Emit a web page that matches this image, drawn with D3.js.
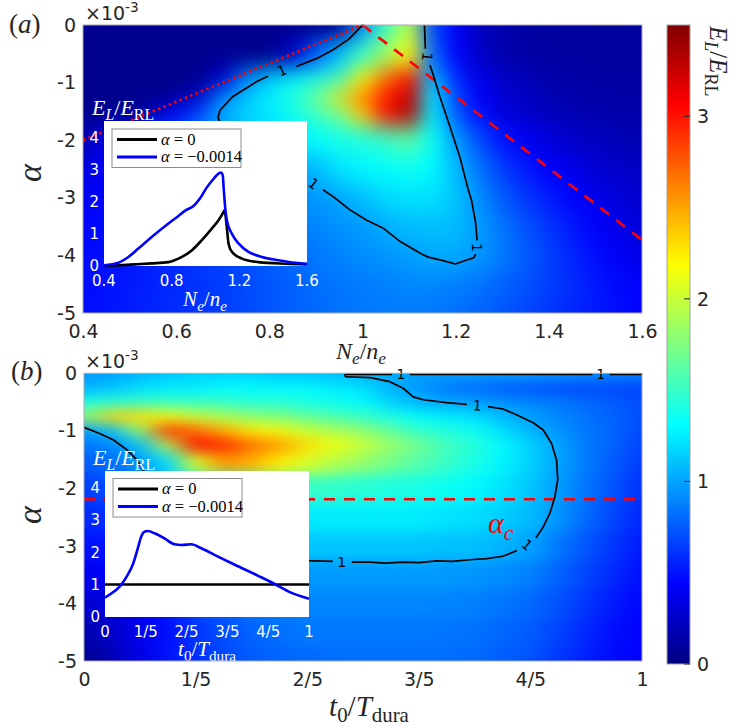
<!DOCTYPE html>
<html>
<head>
<meta charset="utf-8">
<script src="https://cdn.jsdelivr.net/npm/d3@7"></script>
<style>
  body { margin: 0; background: #fff; }
  svg { display: block; }
</style>
</head>
<body>
<svg id="fig" width="747" height="728"></svg>
<script>
// ---- panel (a): E_L/E_RL over N_e/n_e and alpha (x1e-3) ----
var neA = [0.4, 0.45, 0.5, 0.55, 0.6, 0.65, 0.7, 0.75, 0.8, 0.85, 0.9, 0.95, 1.0,
           1.05, 1.1, 1.15, 1.2, 1.25, 1.3, 1.35, 1.4, 1.45, 1.5, 1.55, 1.6];
var alphaA = [0, -0.5, -1, -1.25, -1.5, -2, -2.5, -3, -3.5, -4, -4.5, -5];
var fieldA = [
  [0.05,0.05,0.05,0.05,0.05,0.05,0.05,0.05,0.05,0.05,0.05,0.08,0.9,1.5,1.95,0.7,0.4,0.22,0.15,0.12,0.1,0.1,0.1,0.1,0.1],
  [0.05,0.05,0.05,0.05,0.05,0.05,0.05,0.05,0.05,0.25,0.75,1.1,1.5,1.85,2.2,0.8,0.45,0.25,0.16,0.13,0.12,0.11,0.1,0.1,0.1],
  [0.05,0.05,0.05,0.05,0.05,0.05,0.3,0.9,1.15,1.3,1.4,1.55,2.2,2.7,3.05,1.1,0.6,0.38,0.26,0.2,0.16,0.14,0.13,0.12,0.12],
  [0.05,0.05,0.05,0.05,0.05,0.3,0.95,1.15,1.25,1.45,1.75,2.3,2.7,3.0,3.3,1.25,0.7,0.42,0.3,0.23,0.18,0.15,0.14,0.13,0.13],
  [0.05,0.05,0.05,0.2,0.45,0.7,1.0,1.15,1.25,1.35,1.5,1.7,2.35,3.0,3.3,1.25,0.75,0.48,0.32,0.26,0.21,0.18,0.16,0.15,0.15],
  [0.15,0.35,0.5,0.65,0.8,0.92,1.02,1.1,1.18,1.25,1.32,1.38,1.42,1.5,1.62,1.35,0.98,0.7,0.5,0.4,0.32,0.26,0.22,0.19,0.17],
  [0.32,0.42,0.52,0.62,0.72,0.8,0.87,0.93,0.98,0.98,1.08,1.22,1.28,1.32,1.35,1.3,1.08,0.85,0.65,0.52,0.43,0.36,0.3,0.26,0.23],
  [0.4,0.45,0.5,0.56,0.62,0.68,0.75,0.81,0.87,0.92,0.96,1.0,1.1,1.18,1.22,1.2,1.12,0.92,0.76,0.63,0.53,0.44,0.37,0.31,0.27],
  [0.44,0.48,0.52,0.56,0.6,0.65,0.7,0.75,0.8,0.85,0.9,0.94,0.97,1.03,1.08,1.1,1.08,0.98,0.84,0.72,0.62,0.52,0.43,0.36,0.31],
  [0.46,0.49,0.52,0.55,0.58,0.62,0.66,0.7,0.75,0.8,0.85,0.89,0.92,0.95,0.98,1.02,1.02,0.96,0.86,0.76,0.66,0.56,0.48,0.41,0.36],
  [0.47,0.5,0.52,0.55,0.58,0.61,0.65,0.69,0.73,0.77,0.81,0.84,0.86,0.88,0.9,0.9,0.88,0.84,0.78,0.72,0.65,0.58,0.52,0.46,0.42],
  [0.48,0.5,0.53,0.56,0.59,0.62,0.65,0.69,0.72,0.76,0.8,0.83,0.85,0.86,0.86,0.85,0.82,0.78,0.73,0.68,0.62,0.57,0.52,0.48,0.44]
];

// ---- panel (b): E_L/E_RL over t0/T_dura and alpha (x1e-3) ----
var tB = [0, 0.05, 0.1, 0.15, 0.2, 0.25, 0.3, 0.35, 0.4, 0.45, 0.5,
          0.55, 0.6, 0.65, 0.7, 0.75, 0.8, 0.85, 0.9, 0.95, 1.0];
var alphaB = [0, -0.25, -0.5, -0.75, -1, -1.25, -1.5, -2, -2.5, -3, -3.5, -4, -4.5, -5];
// one inner list per t0 column, top (alpha=0) to bottom (alpha=-5)
var columnsB = [
  [0.95,1.05,1.4,1.8,0.97,0.85,0.75,0.65,0.58,0.5,0.4,0.28,0.15,0.05],
  [1.0,1.1,1.45,2.35,1.1,0.9,0.82,0.7,0.6,0.5,0.4,0.32,0.25,0.18],
  [1.05,1.2,1.5,2.3,1.8,1.1,0.98,0.85,0.7,0.58,0.48,0.42,0.38,0.35],
  [1.1,1.25,1.5,2.15,2.9,1.95,1.2,1.05,0.85,0.7,0.6,0.52,0.48,0.5],
  [1.15,1.25,1.5,2.0,2.7,3.05,2.05,1.3,1.0,0.85,0.75,0.68,0.62,0.6],
  [1.15,1.3,1.5,1.9,2.45,2.95,2.55,1.35,1.1,0.95,0.85,0.77,0.7,0.68],
  [1.15,1.3,1.45,1.8,2.25,2.7,2.45,1.4,1.2,1.05,0.92,0.85,0.78,0.75],
  [1.1,1.3,1.45,1.75,2.15,2.55,2.25,1.5,1.22,1.08,0.95,0.88,0.82,0.78],
  [1.1,1.3,1.4,1.65,2.0,2.3,2.05,1.5,1.25,1.12,0.97,0.9,0.85,0.8],
  [1.08,1.25,1.35,1.58,1.9,2.15,1.92,1.48,1.25,1.12,0.97,0.9,0.85,0.81],
  [1.05,1.2,1.3,1.5,1.8,2.0,1.82,1.45,1.25,1.12,0.97,0.9,0.85,0.82],
  [1.02,1.05,1.15,1.4,1.65,1.85,1.7,1.42,1.25,1.12,0.97,0.9,0.85,0.82],
  [1.0,0.95,1.05,1.3,1.5,1.7,1.6,1.4,1.25,1.12,0.97,0.9,0.85,0.82],
  [1.0,0.85,1.0,1.25,1.42,1.55,1.5,1.35,1.22,1.1,0.96,0.89,0.84,0.81],
  [1.0,0.8,0.98,1.2,1.35,1.45,1.4,1.3,1.2,1.1,0.95,0.88,0.83,0.8],
  [1.0,0.75,0.93,1.08,1.2,1.3,1.28,1.22,1.14,1.05,0.92,0.84,0.79,0.76],
  [1.0,0.72,0.9,0.98,1.05,1.15,1.15,1.12,1.08,1.0,0.88,0.8,0.75,0.72],
  [0.97,0.7,0.85,0.9,0.95,1.0,1.0,0.98,0.95,0.85,0.78,0.72,0.67,0.63],
  [0.95,0.68,0.8,0.83,0.85,0.86,0.86,0.84,0.8,0.73,0.67,0.62,0.57,0.54],
  [0.92,0.68,0.75,0.78,0.78,0.77,0.75,0.72,0.67,0.62,0.57,0.52,0.48,0.47],
  [0.9,0.66,0.7,0.7,0.68,0.66,0.63,0.6,0.56,0.52,0.48,0.45,0.43,0.42]
];

// ---- E_L/E_RL = 1 contours, split where the "1" labels sit ----
var contourA = [
  [[1.0,0],[0.998,-0.02],[0.97,-0.25],[0.937,-0.43],[0.902,-0.58],[0.858,-0.72]],
  [[0.797,-0.89],[0.773,-0.98],[0.722,-1.24],[0.694,-1.48],[0.69,-1.61],[0.7,-1.8],[0.73,-2.05],[0.78,-2.35],[0.84,-2.58],[0.878,-2.68]],
  [[0.915,-2.86],[0.937,-2.98],[0.973,-3.21],[1.009,-3.39],[1.045,-3.53],[1.081,-3.76],[1.123,-3.96],[1.141,-4.03],[1.173,-4.09],[1.199,-4.15],[1.224,-4.08],[1.239,-4.04],[1.243,-3.98]],
  [[1.246,-3.74],[1.243,-3.44],[1.234,-3.04],[1.227,-2.86],[1.209,-2.29],[1.188,-1.77],[1.166,-1.24],[1.152,-0.87],[1.145,-0.7]],
  [[1.135,-0.41],[1.133,0]]
];
var labelsA = [[0.827,-0.79,-22],[0.895,-2.75,38],[1.245,-3.86,90],[1.139,-0.55,96]];

var contourB = [
  [[0.468,-0.06],[0.468,-0.02],[0.552,-0.02]],
  [[0.584,-0.02],[0.911,-0.02]],
  [[0.942,-0.02],[1.0,-0.02]],
  [[0.468,-0.06],[0.513,-0.076],[0.548,-0.146],[0.572,-0.26],[0.59,-0.41],[0.608,-0.46],[0.65,-0.51],[0.686,-0.54]],
  [[0.724,-0.58],[0.751,-0.62],[0.775,-0.72],[0.805,-0.86],[0.823,-0.985],[0.838,-1.22],[0.847,-1.51],[0.849,-1.85],[0.844,-2.14],[0.835,-2.43],[0.823,-2.67],[0.81,-2.86]],
  [[0.776,-3.08],[0.751,-3.18],[0.722,-3.22],[0.692,-3.24],[0.66,-3.27],[0.632,-3.26],[0.6,-3.29],[0.572,-3.28],[0.54,-3.3],[0.513,-3.28],[0.48,-3.28]],
  [[0.446,-3.27],[0.411,-3.26],[0.36,-3.24],[0.28,-3.1],[0.2,-2.7],[0.14,-2.1],[0.106,-1.68],[0.095,-1.51],[0.077,-1.33],[0.053,-1.16],[0.029,-1.05],[0,-0.94]]
];
var labelsB = [[0.568,-0.02,0],[0.926,-0.02,0],[0.705,-0.56,4],[0.794,-2.98,40],[0.462,-3.28,0]];

// ---- red reference lines ----
var dottedA = [[0.4,-2.0],[1.0,0]];
var dashedA = [[1.0,0],[1.6,-3.73]];
var alphaC = -2.19;

// ---- insets ----
var insetNe0 = [0.4,0.584,0.68,0.78,0.86,0.92,0.978,1.037,1.077,1.107,1.112,1.126,1.136,1.156,1.215,1.314,1.472,1.6];
var insetE0  = [0,0.05,0.08,0.12,0.28,0.49,0.8,1.16,1.42,1.68,1.73,1.21,0.7,0.44,0.23,0.12,0.07,0.05];
var insetNe1 = [0.4,0.485,0.544,0.603,0.682,0.781,0.84,0.88,0.929,0.968,1.008,1.047,1.077,1.091,1.102,1.107,1.116,1.126,1.156,1.195,1.254,1.333,1.432,1.53,1.6];
var insetE1  = [0.02,0.1,0.28,0.54,0.9,1.32,1.55,1.72,1.86,2.1,2.44,2.7,2.87,2.9,2.82,2.45,1.84,1.42,1.0,0.7,0.44,0.28,0.18,0.1,0.07];
var insetT0  = [0, 1];
var insetF0  = [1, 1];
var insetT1  = [0,0.046,0.079,0.111,0.136,0.161,0.177,0.193,0.21,0.243,0.292,0.341,0.374,0.423,0.472,0.554,0.636,0.751,0.825,0.898,1.0];
var insetF1  = [0.6,0.79,0.99,1.3,1.61,2.12,2.47,2.63,2.65,2.58,2.42,2.24,2.22,2.24,2.12,1.86,1.61,1.27,1.04,0.79,0.56];

// ---- ticks ----
var xTicksA = [0.4, 0.6, 0.8, 1.0, 1.2, 1.4, 1.6];
var xTicksB = [0, 0.2, 0.4, 0.6, 0.8, 1];
var xTickLabelsB = ["0", "1/5", "2/5", "3/5", "4/5", "1"];
var yTicks = [0, -1, -2, -3, -4, -5];
var cbarTicks = [0, 1, 2, 3];
var insetYTicks = [0, 1, 2, 3, 4];
var insetXTicksA = [0.4, 0.8, 1.2, 1.6];

var SANS = "DejaVu Sans", SERIF = "Liberation Serif", INK = "#262626";
var svg = d3.select("#fig");
var defs = svg.append("defs");

// MATLAB jet over 0..3.5
var jet = d3.scaleLinear()
  .domain([0, 0.125, 0.375, 0.625, 0.875, 1].map(function(t) { return t * 3.5; }))
  .range(["#000080", "#0000ff", "#00ffff", "#ffff00", "#ff0000", "#800000"])
  .clamp(true);

var xA = d3.scaleLinear().domain([0.4, 1.6]).range([83, 642]);
var yA = d3.scaleLinear().domain([-5, 0]).range([313, 25]);
var xB = d3.scaleLinear().domain([0, 1]).range([84, 642]);
var yB = d3.scaleLinear().domain([-5, 0]).range([661, 373.3]);

function edges(c) {
  var e = [c[0] - (c[1] - c[0]) / 2];
  for (var i = 0; i < c.length - 1; i++) e.push((c[i] + c[i + 1]) / 2);
  var n = c.length;
  e.push(c[n - 1] + (c[n - 1] - c[n - 2]) / 2);
  return e;
}

function heatmap(id, xs, ys, xc, yc, rows, blur) {
  var ex = edges(xc), ey = edges(yc);
  var cells = [];
  rows.forEach(function(row, j) {
    row.forEach(function(v, i) { cells.push({ i: i, j: j, v: v }); });
  });
  defs.append("clipPath").attr("id", "clip-" + id)
    .append("rect")
    .attr("x", xs.range()[0]).attr("y", ys.range()[1])
    .attr("width", xs.range()[1] - xs.range()[0])
    .attr("height", ys.range()[0] - ys.range()[1]);
  var f = defs.append("filter").attr("id", "blur-" + id)
    .attr("x", "-10%").attr("y", "-10%").attr("width", "120%").attr("height", "120%")
    .attr("color-interpolation-filters", "sRGB");
  f.append("feGaussianBlur").attr("stdDeviation", blur);
  f.append("feComponentTransfer").append("feFuncA")
    .attr("type", "table").attr("tableValues", "1 1");

  svg.append("g").attr("clip-path", "url(#clip-" + id + ")")
    .append("g").attr("filter", "url(#blur-" + id + ")")
    .selectAll("rect").data(cells).enter().append("rect")
    .attr("x", function(d) { return xs(ex[d.i]); })
    .attr("width", function(d) { return xs(ex[d.i + 1]) - xs(ex[d.i]) + 0.6; })
    .attr("y", function(d) { return Math.min(ys(ey[d.j]), ys(ey[d.j + 1])); })
    .attr("height", function(d) { return Math.abs(ys(ey[d.j + 1]) - ys(ey[d.j])) + 0.6; })
    .attr("fill", function(d) { return jet(d.v); });
}

// tspans for simple math: {t, i: italic, sub: subscript, sup: superscript}
function mathText(parent, parts, size, family) {
  var t = parent.append("text").attr("font-family", family || SERIF).attr("font-size", size);
  var shift = 0;
  parts.forEach(function(p) {
    var target = p.sub ? size * 0.22 : (p.sup ? -size * 0.42 : 0);
    t.append("tspan")
      .attr("dy", target - shift)
      .attr("font-size", (p.sub || p.sup) ? size * 0.72 : size)
      .attr("font-style", p.i ? "italic" : "normal")
      .text(p.t);
    shift = target;
  });
  return t;
}

var ELERL = [{ t: "E", i: true }, { t: "L", i: true, sub: true }, { t: "/" },
             { t: "E", i: true }, { t: "RL", sub: true }];

// ---------- heatmaps ----------
var rowsB = alphaB.map(function(a, j) {
  return columnsB.map(function(col) { return col[j]; });
});
heatmap("a", xA, yA, neA, alphaA, fieldA, "10 11");
heatmap("b", xB, yB, tB, alphaB, rowsB, "12 7");

// ---------- red lines ----------
var lineA = d3.line().x(function(d) { return xA(d[0]); }).y(function(d) { return yA(d[1]); });
var lineB = d3.line().x(function(d) { return xB(d[0]); }).y(function(d) { return yB(d[1]); });

svg.append("path").attr("d", lineA(dottedA))
  .attr("fill", "none").attr("stroke", "#ff0000").attr("stroke-width", 2.6)
  .attr("stroke-dasharray", "2.4,3.4");
svg.append("path").attr("d", lineA(dashedA))
  .attr("fill", "none").attr("stroke", "#ff0000").attr("stroke-width", 2.6)
  .attr("stroke-dasharray", "11,9");
svg.append("path").attr("d", lineB([[0, alphaC], [1, alphaC]]))
  .attr("fill", "none").attr("stroke", "#ff0000").attr("stroke-width", 2.6)
  .attr("stroke-dasharray", "11,9");

// ---------- contours ----------
function contours(segs, labels, line, xs, ys) {
  var g = svg.append("g");
  g.selectAll("path").data(segs).enter().append("path")
    .attr("d", line)
    .attr("fill", "none").attr("stroke", "#000").attr("stroke-width", 1.7)
    .attr("stroke-linejoin", "round");
  g.selectAll("text").data(labels).enter().append("text")
    .attr("transform", function(d) {
      return "translate(" + xs(d[0]) + "," + ys(d[1]) + ") rotate(" + d[2] + ")";
    })
    .attr("text-anchor", "middle").attr("dy", "0.36em")
    .attr("font-family", SANS).attr("font-size", 14).attr("fill", "#000")
    .text("1");
}
contours(contourA, labelsA, lineA, xA, yA);
contours(contourB, labelsB, lineB, xB, yB);

// alpha_c
mathText(svg.append("g").attr("transform", "translate(" + xB(0.724) + "," + yB(-2.78) + ")")
  .attr("fill", "#ff0000"), [{ t: "α", i: true }, { t: "c", i: true, sub: true }], 30);

// ---------- insets ----------
function inset(xs, ys, xTicks, xFmt, xLabel, curves, legendY) {
  var g = svg.append("g");
  var x0 = xs.range()[0], x1 = xs.range()[1], y0 = ys.range()[1], y1 = ys.range()[0];
  g.append("rect").attr("x", x0).attr("y", y0).attr("width", x1 - x0).attr("height", y1 - y0)
    .attr("fill", "#fff");
  var line = d3.line().curve(d3.curveMonotoneX)
    .x(function(d) { return xs(d[0]); }).y(function(d) { return ys(d[1]); });
  curves.forEach(function(c) {
    g.append("path").datum(d3.zip(c.x, c.y)).attr("d", line)
      .attr("fill", "none").attr("stroke", c.color).attr("stroke-width", 2.6)
      .attr("stroke-linejoin", "round");
  });
  // white tick labels
  g.selectAll(".iy").data(insetYTicks).enter().append("text")
    .attr("x", x0 - 5).attr("y", function(d) { return ys(d); }).attr("dy", "0.36em")
    .attr("text-anchor", "end").attr("font-family", SANS).attr("font-size", 15)
    .attr("fill", "#fff").text(function(d) { return d; });
  g.selectAll(".ix").data(xTicks).enter().append("text")
    .attr("x", function(d) { return xs(d); }).attr("y", y1 + 19.5)
    .attr("text-anchor", "middle").attr("font-family", SANS).attr("font-size", 15)
    .attr("fill", "#fff").text(xFmt);
  mathText(g.append("g").attr("transform", "translate(" + (x0 + xLabel.dx) + "," + (y1 + xLabel.dy) + ")")
    .attr("fill", "#fff").attr("text-anchor", "middle"), xLabel.parts, 21);
  mathText(g.append("g").attr("transform", "translate(" + (x0 - 12) + "," + (y0 - 6) + ")")
    .attr("fill", "#fff"), ELERL, 22);
  // legend
  var lg = g.append("g").attr("transform", "translate(" + (x0 + 8) + "," + (y0 + legendY) + ")");
  lg.append("rect").attr("x", 0).attr("y", 0).attr("width", 129).attr("height", 38.5)
    .attr("fill", "#fff").attr("stroke", "#8c8c8c").attr("stroke-width", 1);
  curves.forEach(function(c, i) {
    var yy = 10.5 + i * 17.5;
    lg.append("line").attr("x1", 5).attr("x2", 45).attr("y1", yy).attr("y2", yy)
      .attr("stroke", c.color).attr("stroke-width", 3);
    mathText(lg.append("g").attr("transform", "translate(49," + (yy + 5) + ")").attr("fill", "#000"),
      [{ t: "α", i: true }, { t: " = " + c.name }], 16.5);
  });
}

inset(d3.scaleLinear().domain([0.4, 1.6]).range([104, 307]),
      d3.scaleLinear().domain([0, 4.5]).range([266, 121]),
      insetXTicksA, function(d) { return d.toFixed(1); },
      { dx: 101, dy: 40, parts: [{ t: "N", i: true }, { t: "e", i: true, sub: true }, { t: "/" },
                                 { t: "n", i: true }, { t: "e", i: true, sub: true }] },
      [{ x: insetNe0, y: insetE0, color: "#000", name: "0" },
       { x: insetNe1, y: insetE1, color: "#0000ff", name: "\u22120.0014" }], 8);

inset(d3.scaleLinear().domain([0, 1]).range([105, 309]),
      d3.scaleLinear().domain([0, 4.5]).range([617, 471]),
      xTicksB, function(d, i) { return xTickLabelsB[i]; },
      { dx: 102, dy: 39, parts: [{ t: "t", i: true }, { t: "0", sub: true }, { t: "/" },
                                 { t: "T", i: true }, { t: "dura", sub: true }] },
      [{ x: insetT0, y: insetF0, color: "#000", name: "0" },
       { x: insetT1, y: insetF1, color: "#0000ff", name: "\u22120.0014" }], 7.5);

// ---------- axes boxes, ticks ----------
[[xA, yA], [xB, yB]].forEach(function(p) {
  svg.append("rect")
    .attr("x", p[0].range()[0]).attr("y", p[1].range()[1])
    .attr("width", p[0].range()[1] - p[0].range()[0])
    .attr("height", p[1].range()[0] - p[1].range()[1])
    .attr("fill", "none").attr("stroke", "#a8a8b4").attr("stroke-width", 1);
});

function styleAxis(g) {
  g.select(".domain").remove();
  g.attr("font-family", SANS).attr("font-size", 19).attr("color", INK);
}
svg.append("g").attr("transform", "translate(0,313)")
  .call(d3.axisBottom(xA).tickValues(xTicksA).tickSize(0).tickPadding(12)
    .tickFormat(function(d) { return String(+d.toFixed(1)); }))
  .call(styleAxis);
svg.append("g").attr("transform", "translate(83,0)")
  .call(d3.axisLeft(yA).tickValues(yTicks).tickSize(0).tickPadding(7)
    .tickFormat(function(d) { return String(d); }))
  .call(styleAxis);
svg.append("g").attr("transform", "translate(0,661)")
  .call(d3.axisBottom(xB).tickValues(xTicksB).tickSize(0).tickPadding(12)
    .tickFormat(function(d, i) { return xTickLabelsB[i]; }))
  .call(styleAxis);
svg.append("g").attr("transform", "translate(84,0)")
  .call(d3.axisLeft(yB).tickValues(yTicks).tickSize(0).tickPadding(7)
    .tickFormat(function(d) { return String(d); }))
  .call(styleAxis);

// x10^-3 multipliers
[20, 368].forEach(function(by) {
  mathText(svg.append("g").attr("transform", "translate(85," + by + ")").attr("fill", INK),
    [{ t: "\u00d710" }, { t: "-3", sup: true }], 19, SANS);
});

// axis titles
[173, 515].forEach(function(cy) {
  svg.append("text").attr("transform", "translate(41," + cy + ") rotate(-90)")
    .attr("text-anchor", "middle").attr("font-family", SERIF).attr("font-style", "italic")
    .attr("font-size", 34).attr("fill", INK).text("α");
});
mathText(svg.append("g").attr("transform", "translate(361,359)").attr("fill", INK)
  .attr("text-anchor", "middle"),
  [{ t: "N", i: true }, { t: "e", i: true, sub: true }, { t: "/" },
   { t: "n", i: true }, { t: "e", i: true, sub: true }], 24);
mathText(svg.append("g").attr("transform", "translate(369,716)").attr("fill", INK)
  .attr("text-anchor", "middle"),
  [{ t: "t", i: true }, { t: "0", sub: true }, { t: "/" },
   { t: "T", i: true }, { t: "dura", sub: true }], 29);

// panel tags
mathText(svg.append("g").attr("transform", "translate(9,33)").attr("fill", INK),
  [{ t: "(" }, { t: "a", i: true }, { t: ")" }], 27);
mathText(svg.append("g").attr("transform", "translate(11,380)").attr("fill", INK),
  [{ t: "(" }, { t: "b", i: true }, { t: ")" }], 27);

// ---------- colorbar ----------
var cY = d3.scaleLinear().domain([0, 3.5]).range([664, 25]);
var grad = defs.append("linearGradient").attr("id", "jetgrad")
  .attr("x1", 0).attr("y1", 1).attr("x2", 0).attr("y2", 0);
jet.domain().forEach(function(v) {
  grad.append("stop").attr("offset", v / 3.5).attr("stop-color", jet(v));
});
svg.append("rect").attr("x", 667).attr("y", cY(3.5)).attr("width", 23)
  .attr("height", cY(0) - cY(3.5)).attr("fill", "url(#jetgrad)")
  .attr("stroke", "#a0a0a0").attr("stroke-width", 1);
svg.selectAll(".cbt").data(cbarTicks).enter().append("line")
  .attr("x1", 684).attr("x2", 690)
  .attr("y1", function(d) { return cY(d); }).attr("y2", function(d) { return cY(d); })
  .attr("stroke", INK).attr("stroke-width", 1);
svg.selectAll(".cbl").data(cbarTicks).enter().append("text")
  .attr("x", 697).attr("y", function(d) { return cY(d); }).attr("dy", "0.35em")
  .attr("font-family", SANS).attr("font-size", 19).attr("fill", INK)
  .text(function(d) { return d; });
mathText(svg.append("g").attr("transform", "translate(710,26) rotate(90)").attr("fill", INK),
  ELERL, 25);
</script>
</body>
</html>
